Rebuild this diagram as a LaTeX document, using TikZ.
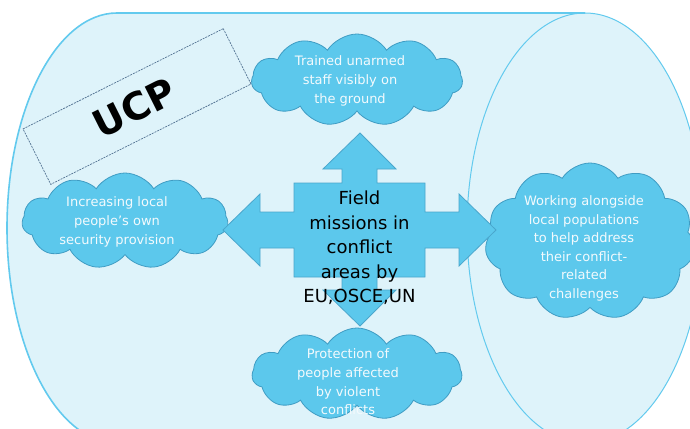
\documentclass[tikz,border=0pt]{standalone}
\usepackage{fontspec}
\setmainfont{DejaVu Sans}
\usetikzlibrary{shapes.symbols}
\definecolor{bgpale}{HTML}{DEF3FA}
\definecolor{cylline}{HTML}{62CAEE}
\definecolor{cloudfill}{HTML}{5CC8EC}
\definecolor{cloudline}{HTML}{3F9CC3}
\definecolor{arrowline}{HTML}{4AA6CC}
\definecolor{cloudtext}{HTML}{F3FAFD}
\definecolor{ucpline}{HTML}{4F6F8F}
\tikzset{
  puffy/.style={cloud, cloud puffs=11, cloud puff arc=115, fill=cloudfill, draw=cloudline, line width=0.8pt, inner sep=0pt},
  cloudlabel/.style={text=cloudtext, align=center, font=\fontsize{13}{18.6}\selectfont, inner sep=0pt},
  centerlabel/.style={text=black, align=center, font=\fontsize{18}{24.5}\selectfont, inner sep=0pt},
}
\begin{document}
\begin{tikzpicture}[x=1pt,y=-1pt]
\useasboundingbox (0,0) rectangle (690,428);
\clip (0,0) rectangle (690,428);
\fill[white] (0,0) rectangle (690,428);
% cylinder body
\fill[bgpale] (117,13) -- (585,13) -- (585,443) -- (117,443)
   arc[start angle=90, end angle=270, x radius=110, y radius=215] -- cycle;
\fill[bgpale] (585,228) ellipse [x radius=118, y radius=215];
\draw[cylline, line width=1.6pt] (585,13) -- (117,13)
   arc[start angle=270, end angle=90, x radius=110, y radius=215] -- (585,443);
\draw[cylline, line width=1pt] (585,228) ellipse [x radius=118, y radius=215];
% UCP label box
\node[draw=ucpline, dash pattern=on 2pt off 1pt, line width=0.7pt, rotate=26.6,
      minimum width=224pt, minimum height=62pt, inner sep=0pt] (ucpbox) at (137,106.5) {};
\node[rotate=26.6, text=black, font=\fontsize{38}{38}\bfseries, inner sep=0pt] (ucp) at (134.5,108) {UCP};
% clouds
\node[puffy, minimum width=211pt, minimum height=92pt] (ctop) at (357,80) {};
\node[puffy, minimum width=206pt, minimum height=96pt] (cleft) at (125,221) {};
\node[puffy, minimum width=210pt, minimum height=157pt] (cright) at (590,241.5) {};
\node[puffy, minimum width=210pt, minimum height=92pt] (cbottom) at (357,374) {};
% central quad arrow
\fill[cloudfill, draw=arrowline, line width=0.8pt, line join=miter]
  (360,133) -- (396,169) -- (377,169) -- (377,183) -- (425,183) -- (425,212)
  -- (459,212) -- (459,194) -- (496,230) -- (459,266) -- (459,248) -- (425,248)
  -- (425,277) -- (377,277) -- (377,290) -- (396,290) -- (360,326) -- (323,290)
  -- (342,290) -- (342,277) -- (294,277) -- (294,248) -- (260,248) -- (260,266)
  -- (223,230) -- (260,194) -- (260,212) -- (294,212) -- (294,183) -- (342,183)
  -- (342,169) -- (323,169) -- cycle;
% texts
\node[centerlabel] (field) at (359.5,248) {Field\\missions in\\conflict\\areas by\\EU,OSCE,UN};
\node[cloudlabel] (ttop) at (350,81) {Trained unarmed\\staff visibly on\\the ground};
\node[cloudlabel] (tleft) at (117,222) {Increasing local\\people’s own\\security provision};
\node[cloudlabel] (tright) at (584,248.5) {Working alongside\\local populations\\to help address\\their conflict-\\related\\challenges};
\node[cloudlabel] (tbottom) at (348,382) {Protection of\\people affected\\by violent\\conflicts};
\end{tikzpicture}
\end{document}
